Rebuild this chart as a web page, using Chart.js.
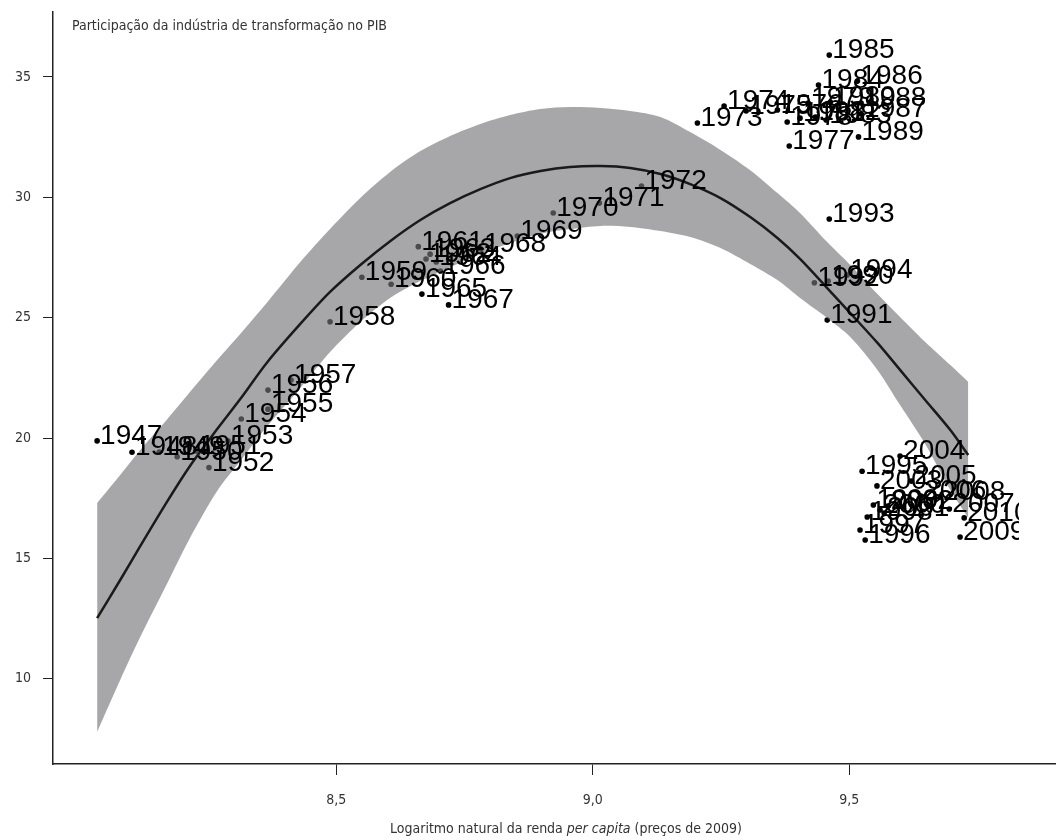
<!DOCTYPE html>
<html lang="pt">
<head>
<meta charset="UTF-8">
<title>Participação da indústria de transformação no PIB</title>
<script src="https://cdn.jsdelivr.net/npm/chart.js"></script>
<style>
  body { margin: 0; background: #fff; }
</style>
</head>
<body>
<canvas id="grafico" width="1059" height="840"></canvas>
<script>
// anos observados
const anos = [1947, 1948, 1949, 1950, 1951, 1952, 1953, 1954, 1955, 1956,
  1957, 1958, 1959, 1960, 1961, 1962, 1963, 1964, 1965, 1966,
  1967, 1968, 1969, 1970, 1971, 1972, 1973, 1974, 1975, 1976,
  1977, 1978, 1979, 1980, 1981, 1982, 1983, 1984, 1985, 1986,
  1987, 1988, 1989, 1990, 1991, 1992, 1993, 1994, 1995, 1996,
  1997, 1998, 1999, 2000, 2001, 2002, 2003, 2004, 2005, 2006,
  2007, 2008, 2009, 2010];

// log da renda per capita
const renda = [8.034, 8.102, 8.155, 8.190, 8.227, 8.252, 8.289, 8.315, 8.367, 8.367,
  8.412, 8.488, 8.550, 8.607, 8.660, 8.675, 8.683, 8.695, 8.667, 8.703,
  8.719, 8.782, 8.853, 8.923, 9.013, 9.095, 9.204, 9.256, 9.299, 9.360,
  9.383, 9.379, 9.420, 9.463, 9.404, 9.434, 9.455, 9.440, 9.461, 9.516,
  9.523, 9.523, 9.518, 9.459, 9.457, 9.432, 9.461, 9.496, 9.525, 9.531,
  9.521, 9.535, 9.547, 9.560, 9.568, 9.575, 9.554, 9.599, 9.621, 9.640,
  9.695, 9.677, 9.716, 9.724];

// participação da indústria de transformação (%)
const industria = [19.88, 19.41, 19.42, 19.22, 19.46, 18.77, 19.88, 20.79, 21.20, 21.99,
  22.41, 24.83, 26.68, 26.39, 27.95, 27.44, 27.64, 27.31, 25.98, 26.94,
  25.53, 27.85, 28.39, 29.35, 29.76, 30.47, 33.09, 33.79, 33.59, 33.63,
  32.13, 33.13, 33.92, 33.96, 33.29, 33.34, 33.21, 34.67, 35.91, 34.83,
  33.46, 33.92, 32.51, 26.52, 24.90, 26.45, 29.10, 26.77, 18.62, 15.76,
  16.18, 16.72, 17.22, 17.01, 16.88, 17.17, 18.01, 19.25, 18.21, 17.59,
  17.05, 17.55, 15.89, 16.68];

// curva ajustada e intervalo de confiança
const curvaX = [8.034, 8.079, 8.118, 8.171, 8.215, 8.268, 8.313, 8.366, 8.430, 8.488,
  8.547, 8.605, 8.664, 8.722, 8.781, 8.839, 8.898, 8.956, 9.015, 9.073,
  9.132, 9.190, 9.249, 9.307, 9.360, 9.404, 9.457, 9.502, 9.555, 9.599,
  9.648, 9.697, 9.732];
const curvaY = [12.52, 14.10, 15.51, 17.38, 18.84, 20.37, 21.62, 23.16, 24.74, 26.07,
  27.19, 28.18, 29.06, 29.76, 30.34, 30.80, 31.09, 31.26, 31.30, 31.22,
  30.97, 30.55, 29.97, 29.18, 28.31, 27.44, 26.23, 25.19, 23.95, 22.83,
  21.58, 20.33, 19.29];
const bandaSup = [17.30, 18.46, 19.50, 20.79, 21.91, 23.24, 24.32, 25.65, 27.31, 28.68,
  29.97, 31.05, 31.92, 32.55, 33.05, 33.42, 33.67, 33.75, 33.71, 33.59,
  33.34, 32.71, 31.97, 31.13, 30.18, 29.35, 28.14, 27.19, 25.98, 25.03,
  23.99, 23.03, 22.33];
const bandaInf = [7.79, 9.95, 11.73, 13.98, 15.85, 17.80, 19.04, 20.50, 22.08, 23.57,
  24.82, 25.82, 26.52, 27.10, 27.64, 28.10, 28.48, 28.68, 28.81, 28.77,
  28.60, 28.35, 27.89, 27.23, 26.56, 25.82, 24.99, 24.20, 22.83, 21.37,
  19.75, 17.84, 16.68];

const xTicks = [8.5, 9.0, 9.5];
const yTicks = [10, 15, 20, 25, 30, 35];

const fonteEixo = '"Liberation Sans Narrow", "DejaVu Sans Condensed", "Liberation Sans", sans-serif';
const corTexto = '#333';
const limiteRotulos = 9.831; // onde os rótulos são cortados

const rotulos = {
  id: 'rotulos',
  afterDatasetsDraw(chart) {
    const { ctx, chartArea, scales: { x, y } } = chart;
    const lim = x.getPixelForValue(limiteRotulos);
    ctx.save();
    ctx.beginPath();
    ctx.rect(chartArea.left, 0, lim - chartArea.left, chartArea.bottom);
    ctx.clip();
    ctx.font = '28px "Liberation Sans", Arial, sans-serif';
    ctx.fillStyle = '#000';
    ctx.textBaseline = 'alphabetic';
    ctx.textAlign = 'left';
    anos.forEach((a, i) => {
      ctx.fillText(String(a), x.getPixelForValue(renda[i]) + 3, y.getPixelForValue(industria[i]) + 3);
    });
    ctx.restore();
  }
};

const titulos = {
  id: 'titulos',
  afterDraw(chart) {
    const ctx = chart.ctx;
    ctx.save();
    ctx.fillStyle = corTexto;
    ctx.textBaseline = 'middle';
    ctx.textAlign = 'left';
    ctx.font = '14px ' + fonteEixo;
    ctx.fillText('Participação da indústria de transformação no PIB', 72, 26);

    // título do eixo x, com "per capita" em itálico
    const partes = [
      ['Logaritmo natural da renda ', ''],
      ['per capita', 'italic '],
      [' (preços de 2009)', '']
    ];
    let total = 0;
    partes.forEach(p => { ctx.font = p[1] + '14px ' + fonteEixo; total += ctx.measureText(p[0]).width; });
    let xi = 566 - total / 2;
    partes.forEach(p => {
      ctx.font = p[1] + '14px ' + fonteEixo;
      ctx.fillText(p[0], xi, 829);
      xi += ctx.measureText(p[0]).width;
    });
    ctx.restore();
  }
};

const ctx = document.getElementById('grafico').getContext('2d');
new Chart(ctx, {
  type: 'scatter',
  data: {
    datasets: [
      {
        label: 'Anos',
        data: anos.map((a, i) => ({ x: renda[i], y: industria[i] })),
        backgroundColor: '#000',
        borderColor: '#000',
        pointRadius: 2.8,
        pointBorderWidth: 0,
        order: 3
      },
      {
        label: 'IC superior',
        data: curvaX.map((v, i) => ({ x: v, y: bandaSup[i] })),
        showLine: true,
        fill: '+1',
        backgroundColor: 'rgba(117,118,122,0.64)',
        borderColor: 'rgba(0,0,0,0)',
        borderWidth: 0,
        pointRadius: 0,
        tension: 0.3,
        order: 2
      },
      {
        label: 'IC inferior',
        data: curvaX.map((v, i) => ({ x: v, y: bandaInf[i] })),
        showLine: true,
        fill: false,
        borderColor: 'rgba(0,0,0,0)',
        borderWidth: 0,
        pointRadius: 0,
        tension: 0.3,
        order: 2
      },
      {
        label: 'Ajuste',
        data: curvaX.map((v, i) => ({ x: v, y: curvaY[i] })),
        showLine: true,
        fill: false,
        borderColor: '#1a1a1a',
        borderWidth: 2.5,
        pointRadius: 0,
        tension: 0.3,
        order: 1
      }
    ]
  },
  options: {
    responsive: false,
    animation: false,
    layout: { padding: { top: 12, left: 0, right: 0, bottom: 0 } },
    plugins: {
      legend: { display: false },
      tooltip: { enabled: false }
    },
    scales: {
      x: {
        type: 'linear',
        min: 7.948,
        max: 9.901,
        afterBuildTicks: s => { s.ticks = xTicks.map(v => ({ value: v })); },
        afterFit: s => { s.height = 76; s.paddingLeft = 0; s.paddingRight = 0; },
        grid: { display: true, drawOnChartArea: false, drawTicks: true, tickLength: 11, tickColor: '#222' },
        border: { display: true, color: '#222', width: 1.5 },
        ticks: {
          padding: 17,
          color: corTexto,
          font: { family: fonteEixo, size: 14 },
          maxRotation: 0,
          autoSkip: false,
          callback: v => Number(v).toFixed(1).replace('.', ',')
        }
      },
      y: {
        type: 'linear',
        min: 6.456,
        max: 37.70,
        afterBuildTicks: s => { s.ticks = yTicks.map(v => ({ value: v })); },
        afterFit: s => { s.width = 53; s.paddingTop = 0; s.paddingBottom = 0; },
        grid: { display: true, drawOnChartArea: false, drawTicks: true, tickLength: 10, tickColor: '#222' },
        border: { display: true, color: '#222', width: 1.5 },
        ticks: {
          padding: 12,
          color: corTexto,
          font: { family: fonteEixo, size: 14 },
          autoSkip: false,
          callback: v => String(v)
        }
      }
    }
  },
  plugins: [rotulos, titulos]
});
</script>
</body>
</html>
